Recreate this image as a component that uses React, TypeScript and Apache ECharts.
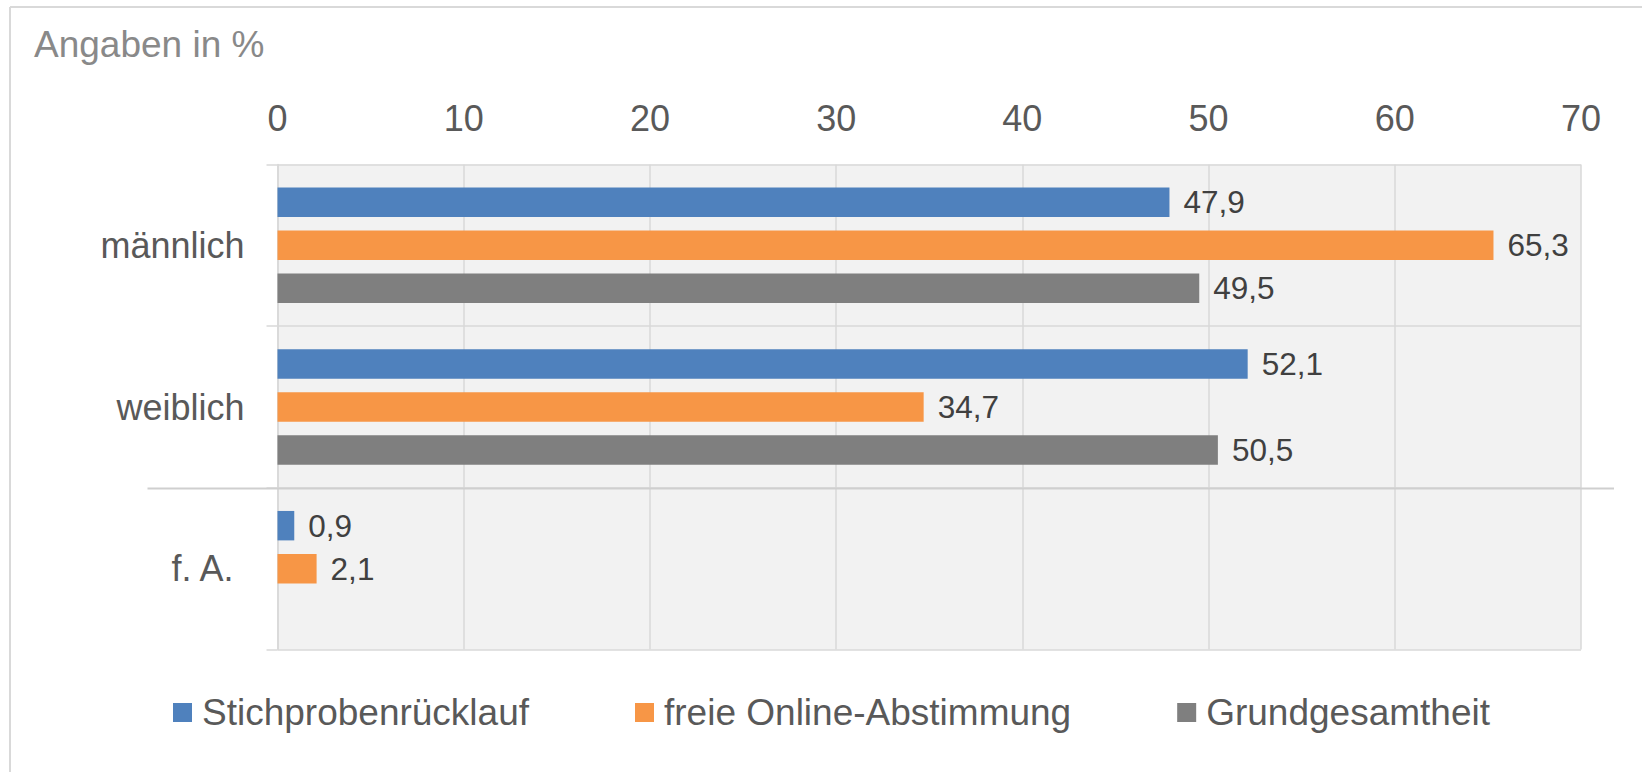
import React, { useEffect, useRef } from "react";
import * as echarts from "echarts";

const categories = ["männlich", "weiblich", "f. A."];
const seriesNames = ["Stichprobenrücklauf", "freie Online-Abstimmung", "Grundgesamtheit"];
const stichprobe = [47.9, 52.1, 0.9];
const online = [65.3, 34.7, 2.1];
const grund: (number | null)[] = [49.5, 50.5, null];
const xTicks = { min: 0, max: 70, interval: 10 };
const colors = ["#4f81bd", "#f79646", "#7f7f7f"];

const FONT = "'Liberation Sans', Arial, sans-serif";

export default function App() {
  const ref = useRef<HTMLDivElement>(null);
  useEffect(() => {
    if (!ref.current) return;
    const chart = echarts.init(ref.current, undefined, { renderer: "svg" });
    const grid = { left: 277.5, right: 61, top: 164.5, bottom: 122.5 };
    const mkSeries = (name: string, data: (number | null)[], color: string) => ({
      name,
      type: "bar",
      data,
      itemStyle: { color },
      barCategoryGap: "28.6%",
      barGap: "46%",
      label: {
        show: true,
        position: "right",
        distance: 14,
        fontSize: 31.5,
        fontFamily: FONT,
        color: "#404040",
        formatter: (p: any) => (p.value == null ? "" : String(p.value).replace(".", ",")),
      },
    });
    chart.setOption({
      animation: false,
      backgroundColor: "#ffffff",
      textStyle: { fontFamily: FONT },
      title: {
        text: "Angaben in %",
        left: 29,
        top: 21,
        textStyle: { fontSize: 37, fontWeight: "normal", color: "#898989", fontFamily: FONT },
      },
      grid: {
        ...grid,
        show: true,
        backgroundColor: "#f2f2f2",
        borderWidth: 0,
        containLabel: false,
      },
      legend: {
        left: 168,
        top: 689,
        itemWidth: 19,
        itemHeight: 19,
        itemGap: 106,
        icon: "rect",
        data: seriesNames,
        textStyle: { fontSize: 37, color: "#595959", fontFamily: FONT, padding: [0, 0, 0, 5] },
      },
      xAxis: {
        type: "value",
        position: "top",
        min: xTicks.min,
        max: xTicks.max,
        interval: xTicks.interval,
        axisLine: { show: false },
        axisTick: { show: false },
        axisLabel: { fontSize: 36, color: "#595959", margin: 28, fontFamily: FONT },
        splitLine: { show: true, lineStyle: { color: "#d9d9d9", width: 1.5 } },
      },
      yAxis: {
        type: "category",
        inverse: true,
        data: categories,
        axisLine: { show: true, lineStyle: { color: "#d9d9d9", width: 1.5 } },
        axisTick: { show: true, length: 11, lineStyle: { color: "#d9d9d9", width: 1.5 } },
        axisLabel: {
          fontSize: 36,
          color: "#595959",
          margin: 33,
          fontFamily: FONT,
          formatter: (v: string) => (v === categories[2] ? `{pad|${v}}` : v),
          rich: {
            pad: { fontSize: 36, color: "#595959", fontFamily: FONT, padding: [0, 11, 0, 0] },
          },
        },
        splitLine: { show: true, lineStyle: { color: "#d9d9d9", width: 1.5 } },
      },
      series: [
        mkSeries(seriesNames[0], stichprobe, colors[0]),
        mkSeries(seriesNames[1], online, colors[1]),
        mkSeries(seriesNames[2], grund, colors[2]),
      ],
    });
    // separator between "weiblich" and "f. A."
    const y1 = chart.convertToPixel({ yAxisIndex: 0 }, categories[1]) as number;
    const y2 = chart.convertToPixel({ yAxisIndex: 0 }, categories[2]) as number;
    const ySep = Math.round((y1 + y2) / 2) + 0.5;
    const xLeft = chart.convertToPixel({ xAxisIndex: 0 }, xTicks.min) as number;
    const xRight = chart.convertToPixel({ xAxisIndex: 0 }, xTicks.max) as number;
    chart.setOption({
      graphic: [
        {
          type: "line",
          shape: { x1: xLeft - 130, y1: ySep, x2: xRight + 33, y2: ySep },
          style: { stroke: "#cfcfcf", lineWidth: 2 },
          z: 10,
        },
        {
          type: "line",
          shape: { x1: 10, y1: 7, x2: 1642, y2: 7 },
          style: { stroke: "#d9d9d9", lineWidth: 2 },
        },
        {
          type: "line",
          shape: { x1: 10, y1: 7, x2: 10, y2: 772 },
          style: { stroke: "#d9d9d9", lineWidth: 2 },
        },
      ],
    });
    return () => chart.dispose();
  }, []);
  return (
    <div
      ref={ref}
      style={{ position: "fixed", left: 0, top: 0, width: 1642, height: 772 }}
    />
  );
}
